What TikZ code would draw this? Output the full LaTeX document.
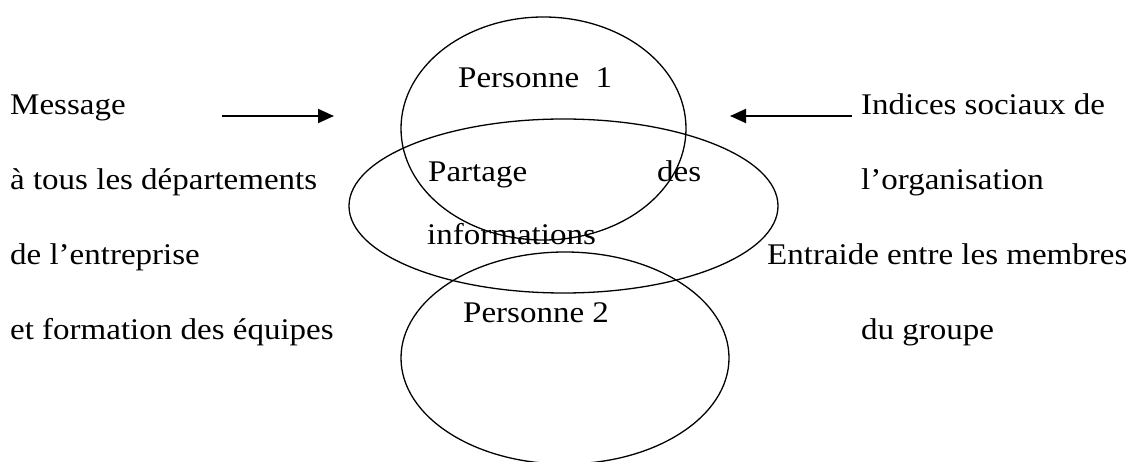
\documentclass[tikz,border=0pt]{standalone}
\usepackage{fontspec}
\setmainfont{Liberation Serif}[FakeStretch=1.1]
\usetikzlibrary{shapes.geometric,arrows.meta}
\begin{document}
\begin{tikzpicture}[x=1pt,y=-1pt,
  txt/.style={anchor=base west,inner sep=0pt,font=\fontsize{30}{36}\selectfont},
  oval/.style={draw,ellipse,inner sep=0pt,line width=1.3pt},
  arr/.style={line width=1.9pt,-{Triangle[length=16pt,width=14pt]}}]
\useasboundingbox (0,0) rectangle (1138,462);
\begin{scope}
\clip (0,0) rectangle (1138,462);
\node[oval,minimum width=285pt,minimum height=223pt] (p1) at (543.5,128.5) {};
\node[oval,minimum width=429pt,minimum height=174pt] (share) at (563.5,206) {};
\node[oval,minimum width=328pt,minimum height=212pt] (p2) at (565,358) {};
\end{scope}
\node[txt] (t1) at (458,88) {Personne\ \ 1};
\node[txt] (t2) at (428,182) {Partage};
\node[txt] (t3) at (657,182) {des};
\node[txt] (t4) at (427,245) {informations};
\node[txt] (t5) at (463,323) {Personne 2};
\node[txt] (l1) at (10,115) {Message};
\node[txt] (l2) at (10,190) {à tous les départements};
\node[txt] (l3) at (10,265) {de l’entreprise};
\node[txt] (l4) at (10,340) {et formation des équipes};
\node[txt] (r1) at (861,115) {Indices sociaux de};
\node[txt] (r2) at (861,190) {l’organisation};
\node[txt] (r3) at (767,265) {Entraide entre les membres};
\node[txt] (r4) at (861,340) {du groupe};
\coordinate (a1s) at (222,116);
\coordinate (a1e) at (334,116);
\coordinate (a2s) at (852,116);
\coordinate (a2e) at (730,116);
\draw[arr] (a1s) -- (a1e);
\draw[arr] (a2s) -- (a2e);
\end{tikzpicture}
\end{document}
